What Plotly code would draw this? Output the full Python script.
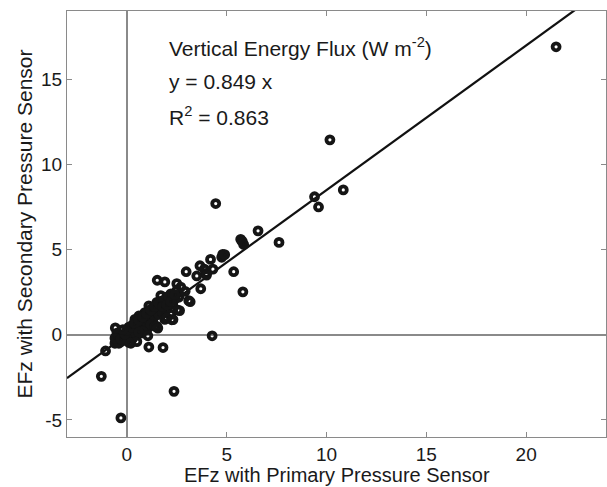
import plotly.graph_objects as go

# Outlying points (x: primary sensor EFz, y: secondary sensor EFz)
x_out = [21.5, 10.17, 9.40, 9.60, 10.84, 4.45, 6.57, 7.62, 5.70, 5.78, 5.85, 4.80, 4.75,
         4.19, 5.35, 5.81, 3.66, 3.50, 3.97, 3.88, 3.70, 2.97, 3.10, 2.92, 2.50, 1.52, 1.90,
         2.55, 2.25, 4.27, 1.05, 1.10, 1.81, 2.36, -0.30, -1.28, -1.07, -0.58, 1.50, 2.64,
         3.17, 2.31, 1.55, 4.31, 3.99, 4.90]
y_out = [16.9, 11.44, 8.10, 7.50, 8.50, 7.70, 6.10, 5.42, 5.60, 5.48, 5.30, 4.72, 4.55,
         4.42, 3.70, 2.52, 4.05, 3.45, 3.60, 3.85, 2.70, 3.70, 2.00, 2.55, 3.00, 3.20, 3.10,
         1.45, 0.88, -0.06, -0.06, -0.72, -0.75, -3.32, -4.88, -2.44, -0.95, 0.40, 0.49, 1.42,
         1.94, 0.89, 0.39, 3.85, 3.50, 4.70]

# Dense cluster near the origin
x_clu = [-0.5, -0.4, -0.3, -0.2, -0.1, 0.0, 0.0, 0.1, 0.1, 0.2, 0.2, 0.3, 0.3, 0.4, 0.4,
         0.5, 0.5, 0.6, 0.6, 0.7, 0.7, 0.8, 0.8, 0.9, 0.9, 1.0, 1.0, 1.1, 1.1, 1.2, 1.2,
         1.3, 1.3, 1.4, 1.4, 1.5, 1.5, 1.6, 1.6, 1.7, 1.8, 1.8, 1.9, 2.0, 2.0, 2.1, 2.2,
         2.3, 2.4, 2.5, 0.2, 0.5, 0.3, -0.6, -0.5, 0.7, 1.0, 1.2, 0.9, 1.1, 0.6, 2.6, 2.7,
         1.7, 2.2, 0.4, 1.9, -0.4, 0.1, 0.8, 1.4, 2.0,
         -0.6, -0.3, -0.1, 0.1, 0.3, 0.5, 0.7, 0.9, 1.1, 1.3, 1.5, 1.7, 1.9, 2.1, 2.3,
         0.0, 0.2, 0.4, 0.6, 0.8, 1.0, 1.2, 1.4, 1.6, 1.8, 2.0, 2.2, 2.4, -0.2, 0.6]
y_clu = [-0.3, -0.1, -0.4, 0.0, -0.2, 0.1, -0.3, 0.2, -0.1, 0.0, 0.3, 0.1, -0.2, 0.4, 0.2,
         0.0, 0.5, 0.3, 0.7, 0.5, 0.9, 0.6, 1.0, 0.8, 0.4, 1.1, 0.7, 0.9, 1.3, 1.0, 1.5,
         1.2, 0.8, 1.6, 1.1, 1.4, 1.9, 1.2, 1.7, 1.5, 2.0, 1.3, 1.7, 2.2, 1.5, 1.9, 2.4,
         1.8, 2.1, 2.6, -0.5, -0.4, 0.6, -0.5, 0.1, 0.1, 0.3, 0.6, 1.3, 1.7, 1.1, 2.2, 2.8,
         2.3, 1.2, 0.9, 0.9, -0.5, -0.45, 0.2, 0.5, 1.0,
         -0.2, -0.25, 0.05, 0.45, 0.55, 0.75, 0.95, 1.15, 1.35, 1.55, 1.75, 1.95, 2.05, 2.25, 2.35,
         0.25, 0.45, 0.65, 0.85, 1.05, 1.25, 1.45, 1.65, 1.85, 1.65, 1.75, 1.95, 2.35, 0.3, 0.15]

slope = 0.849
r2 = 0.863
x_range = [-3, 24]
y_range = [-6, 19]
x_ticks = [0, 5, 10, 15, 20]
y_ticks = [-5, 0, 5, 10, 15]
x_title = "EFz with Primary Pressure Sensor"
y_title = "EFz with Secondary Pressure Sensor"

fit_x = [x_range[0], x_range[1]]
fit_y = [slope * v for v in fit_x]

grey = "#8a8a8a"
ink = "#1a1a1a"
font = "Liberation Sans, Arial, sans-serif"

PL, PR, PT, PB = 67, 606, 11, 437  # plot area in pixels
pw, ph = PR - PL, PB - PT

fig = go.Figure()
fig.add_trace(go.Scatter(x=fit_x, y=fit_y, mode="lines",
                         line=dict(color="#111111", width=2.2), showlegend=False))
fig.add_trace(go.Scatter(x=x_clu + x_out, y=y_clu + y_out, mode="markers",
                         marker=dict(symbol="circle-open", size=7, color="#151515",
                                     line=dict(color="#151515", width=3.8)),
                         showlegend=False))

ann_x = (167 - PL) / pw
for txt, ypix in [("Vertical Energy Flux (W m<sup>-2</sup>)", 47),
                  (f"y = {slope:.3f} x", 82),
                  (f"R<sup>2</sup> = {r2:.3f}", 116)]:
    fig.add_annotation(xref="paper", yref="paper", x=ann_x, y=(PB - ypix) / ph,
                       xanchor="left", yanchor="middle", showarrow=False, text=txt,
                       font=dict(size=21, color=ink, family=font))

# x-axis title placed just above the bottom edge of the page
fig.add_annotation(xref="paper", yref="paper", x=(337 - PL) / pw, y=(PB - 475) / ph,
                   xanchor="center", yanchor="middle", showarrow=False, text=x_title,
                   font=dict(size=20, color=ink, family=font))

axis_common = dict(showgrid=False, ticks="inside", ticklen=5, tickcolor=grey,
                   showline=True, linecolor=grey, linewidth=1.2, mirror="ticks",
                   zeroline=True, zerolinecolor=grey, zerolinewidth=1.5,
                   tickfont=dict(size=19, color=ink, family=font))

fig.update_xaxes(range=x_range, tickvals=x_ticks, ticktext=[str(t) for t in x_ticks],
                 **axis_common)
fig.update_yaxes(range=y_range, tickvals=y_ticks, ticktext=[str(t) for t in y_ticks],
                 title=dict(text=y_title, standoff=2,
                            font=dict(size=21, color=ink, family=font)),
                 **axis_common)

fig.update_layout(width=607, height=487, margin=dict(l=PL, r=607 - PR, t=PT, b=487 - PB),
                  plot_bgcolor="white", paper_bgcolor="white")

fig.write_html("out.html")
